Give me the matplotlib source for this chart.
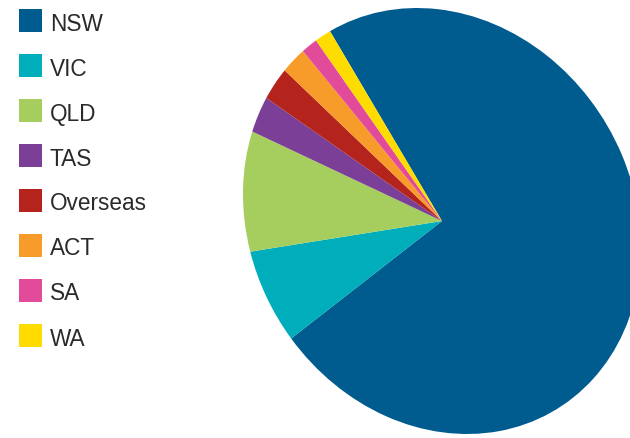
import matplotlib.pyplot as plt
from matplotlib.patches import Rectangle
from matplotlib.transforms import Affine2D

# datos (porcentajes aproximados)
estados = ['NSW', 'VIC', 'QLD', 'TAS', 'Overseas', 'ACT', 'SA', 'WA']
valores = [73.2, 7.0, 9.2, 2.9, 2.7, 2.2, 1.4, 1.4]
colores = ['#005b8f', '#00adbb', '#a6ce5f', '#7b3f98',
           '#b5241c', '#f79b2a', '#e24a9a', '#ffdc00']

W, H = 630, 439
fig = plt.figure(figsize=(W/100, H/100), dpi=100)

# un solo eje que ocupa toda la figura, en unidades de píxel
ax = fig.add_axes([0, 0, 1, 1])
wedges, _ = ax.pie(valores, colors=colores, startangle=120.5,
                   counterclock=False,
                   wedgeprops={'linewidth': 0, 'antialiased': True})

# la tarta del original está algo deformada (elipse inclinada):
# círculo unidad -> elipse centrada en (442, 217) px
deform = Affine2D.from_values(198.6, -13.0, -13.0, 212.6, 442, 217)
for w in wedges:
    w.set_transform(deform + ax.transData)

ax.set_aspect('auto')
ax.set_xlim(0, W)
ax.set_ylim(0, H)
ax.axis('off')

# leyenda manual con cuadrados
for i, (nombre, c) in enumerate(zip(estados, colores)):
    y_top = 10 + 45*i
    ax.add_patch(Rectangle((19, H - y_top - 23), 23, 23,
                           facecolor=c, edgecolor='none'))
    ax.text(50, H - y_top - 14, nombre, fontsize=16.3,
            family='Liberation Sans', color='#2a2a2a', va='center', ha='left')

fig.savefig('out.png', dpi=100)
